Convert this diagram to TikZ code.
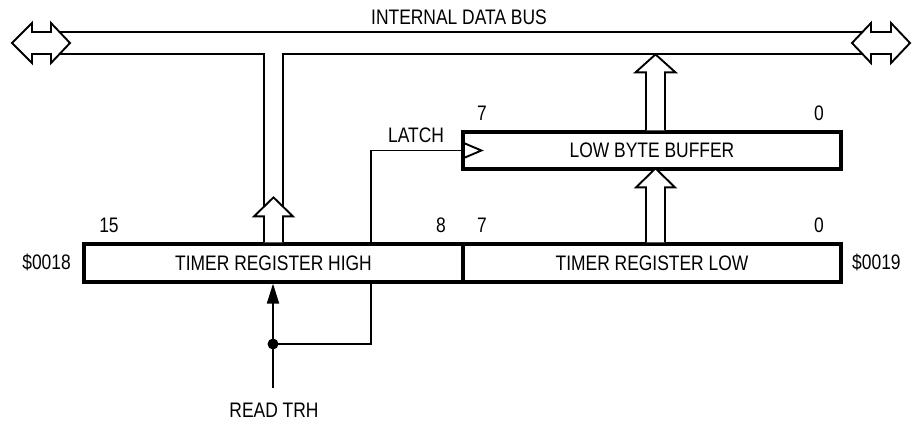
\documentclass[tikz,border=0pt]{standalone}
\usepackage{fontspec}
\setmainfont[FakeStretch=0.83]{Liberation Sans}
\usetikzlibrary{arrows.meta}
\begin{document}
\begin{tikzpicture}[x=1pt,y=-1pt,
  thinline/.style={line width=1.9pt},
  reg/.style={draw, line width=3.2pt, fill=white, minimum height=38pt, inner sep=0pt,
              font=\fontsize{21}{25}\selectfont},
  lbl/.style={inner sep=0pt, font=\fontsize{21}{25}\selectfont},
  blockarrow/.style={draw, line width=1.9pt, fill=white, line join=miter},
  dotnode/.style={circle, fill=black, inner sep=0pt, minimum size=11pt}]
\useasboundingbox (0,0) rectangle (912,421);

% bus
\coordinate (busTL) at (56,32);
\coordinate (busTR) at (866,32);
\coordinate (busBL) at (56,54);
\coordinate (busBR) at (866,54);
\draw[thinline] (busTL) -- (busTR);
\draw[thinline] (busBL) -- (264,54) -- (264,212);
\draw[thinline] (283,212) -- (283,54) -- (busBR);
\draw[blockarrow] (12,43) -- (32,23) -- (32,32) -- (51,32) -- (51,23) -- (70,43)
  -- (51,63) -- (51,54) -- (32,54) -- (32,63) -- cycle;
\draw[blockarrow] (852,43) -- (871,23) -- (871,32) -- (891,32) -- (891,23) -- (910,43)
  -- (891,63) -- (891,54) -- (871,54) -- (871,63) -- cycle;
\node[lbl] (buslbl) at (459,17) {INTERNAL DATA BUS};

% registers
\node[reg, minimum width=379pt] (trh) at (273.5,263) {TIMER REGISTER HIGH};
\node[reg, minimum width=378pt] (trl) at (652,263) {TIMER REGISTER LOW};
\node[reg, minimum width=378pt, minimum height=37pt] (buf) at (652,150.5) {LOW BYTE BUFFER};

% bit labels
\node[lbl] (b15) at (109,225) {15};
\node[lbl] (b8) at (441,225) {8};
\node[lbl] (b7) at (482,225) {7};
\node[lbl] (b0) at (819,225) {0};
\node[lbl] (bb7) at (482,113) {7};
\node[lbl] (bb0) at (819,113) {0};
\node[lbl, anchor=east] (addrh) at (71,262) {\$0018};
\node[lbl, anchor=west] (addrl) at (852,262) {\$0019};

% block arrows
\draw[blockarrow] ([xshift=-9.5pt]trh.north) -- ++(0,-26) -- ++(-10,0) -- ++(19.5,-19)
  -- ++(19.5,19) -- ++(-10,0) -- ++(0,26);
\draw[blockarrow] ([xshift=-6pt]trl.north) -- ++(0,-55) -- ++(-10,0) -- ++(19.5,-19)
  -- ++(19.5,19) -- ++(-10,0) -- ++(0,55);
\draw[blockarrow] ([xshift=-6pt]buf.north) -- ++(0,-58) -- ++(-10.5,0) -- ++(20,-18)
  -- ++(20,18) -- ++(-10.5,0) -- ++(0,58);

% read / latch
\node[dotnode] (dot) at (273,344) {};
\coordinate (latchx) at (371,0);
\coordinate (readin) at (273,388);
\node[lbl] (readlbl) at (274,410) {READ TRH};
\draw[thinline, -{Triangle[length=20pt,width=12pt]}] (readin) -- (trh.south -| readin);
\draw[thinline] (dot.center) -| (trh.south -| latchx);
\draw[thinline] (trh.north -| latchx) |- (buf.west);
\draw[thinline, line join=miter] (buf.west) ++(0,-8.5) -- ++(20,8.5) -- ++(-20,8.5);
\node[lbl] (latchlbl) at (416,135) {LATCH};
\end{tikzpicture}
\end{document}
